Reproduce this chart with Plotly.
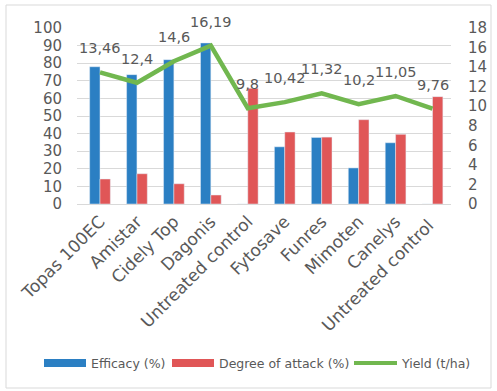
import plotly.graph_objects as go

categories = ["Topas 100EC", "Amistar", "Cidely Top", "Dagonis", "Untreated control",
              "Fytosave", "Funres", "Mimoten", "Canelys", "Untreated control "]
efficacy = [78, 73.5, 82, 91.5, 0, 32.5, 37.8, 20.5, 34.8, 0]
attack = [14.2, 17.2, 11.5, 5.1, 65.7, 40.9, 38, 47.9, 39.6, 61]
yield_t = [13.46, 12.4, 14.6, 16.19, 9.8, 10.42, 11.32, 10.2, 11.05, 9.76]
yield_labels = [str(v).replace(".", ",") for v in yield_t]
series_names = ["Efficacy (%)", "Degree of attack (%)", "Yield (t/ha)"]
colors = ["#2B7FC3", "#E05657", "#71B74F"]

W, H = 497, 391
L, R, T, B = 77, 46, 28, 187
PW, PH = W - L - R, H - T - B
GRAY = "#595959"
FONT = "DejaVu Sans"

def px(x):
    return (x - L) / PW

def py(y):
    return (H - B - y) / PH

fig = go.Figure()
fig.add_bar(x=categories, y=efficacy, name=series_names[0], marker_color=colors[0])
fig.add_bar(x=categories, y=attack, name=series_names[1], marker_color=colors[1])
fig.add_scatter(x=categories, y=yield_t, name=series_names[2], yaxis="y2",
                mode="lines", line=dict(color=colors[2], width=4.5))

for c, v, t in zip(categories, yield_t, yield_labels):
    fig.add_annotation(x=c, y=v, yref="y2", text=t, showarrow=False, yshift=24,
                       font=dict(size=14.5, color=GRAY, family=FONT))

fig.update_layout(
    width=W, height=H, margin=dict(l=L, r=R, t=T, b=B, autoexpand=False),
    paper_bgcolor="white", plot_bgcolor="white",
    barmode="group", bargap=0.44, bargroupgap=0,
    font=dict(family=FONT, color=GRAY, size=14),
    xaxis=dict(tickangle=-45, tickfont=dict(size=17, color=GRAY), showgrid=False,
               showline=True, linecolor="#D9D9D9", ticks="", automargin=False),
    yaxis=dict(range=[0, 100], dtick=10, showgrid=True, gridcolor="#D9D9D9",
               tickfont=dict(size=15, color=GRAY), zeroline=False,
               ticklabelstandoff=14, automargin=False),
    yaxis2=dict(range=[0, 18], dtick=2, overlaying="y", side="right", showgrid=False,
                tickfont=dict(size=15, color=GRAY), zeroline=False,
                ticklabelstandoff=16, automargin=False),
    showlegend=False,
)

# chart border
fig.add_shape(type="rect", xref="paper", yref="paper",
              x0=px(6), x1=px(491), y0=py(388), y1=py(5),
              line=dict(color="#D9D9D9", width=1), layer="below")

# legend
ly = 363
fig.add_shape(type="rect", xref="paper", yref="paper", x0=px(44), x1=px(86),
              y0=py(ly + 4), y1=py(ly - 4), fillcolor=colors[0], line_width=0)
fig.add_shape(type="rect", xref="paper", yref="paper", x0=px(172), x1=px(214),
              y0=py(ly + 4), y1=py(ly - 4), fillcolor=colors[1], line_width=0)
fig.add_shape(type="line", xref="paper", yref="paper", x0=px(354), x1=px(397),
              y0=py(ly), y1=py(ly), line=dict(color=colors[2], width=4))
for xl, name in zip([89, 217, 399], series_names):
    fig.add_annotation(xref="paper", yref="paper", x=px(xl), y=py(ly), text=name,
                       showarrow=False, xanchor="left", yanchor="middle",
                       font=dict(size=12.5, color=GRAY, family=FONT))

fig.write_html("out.html")
